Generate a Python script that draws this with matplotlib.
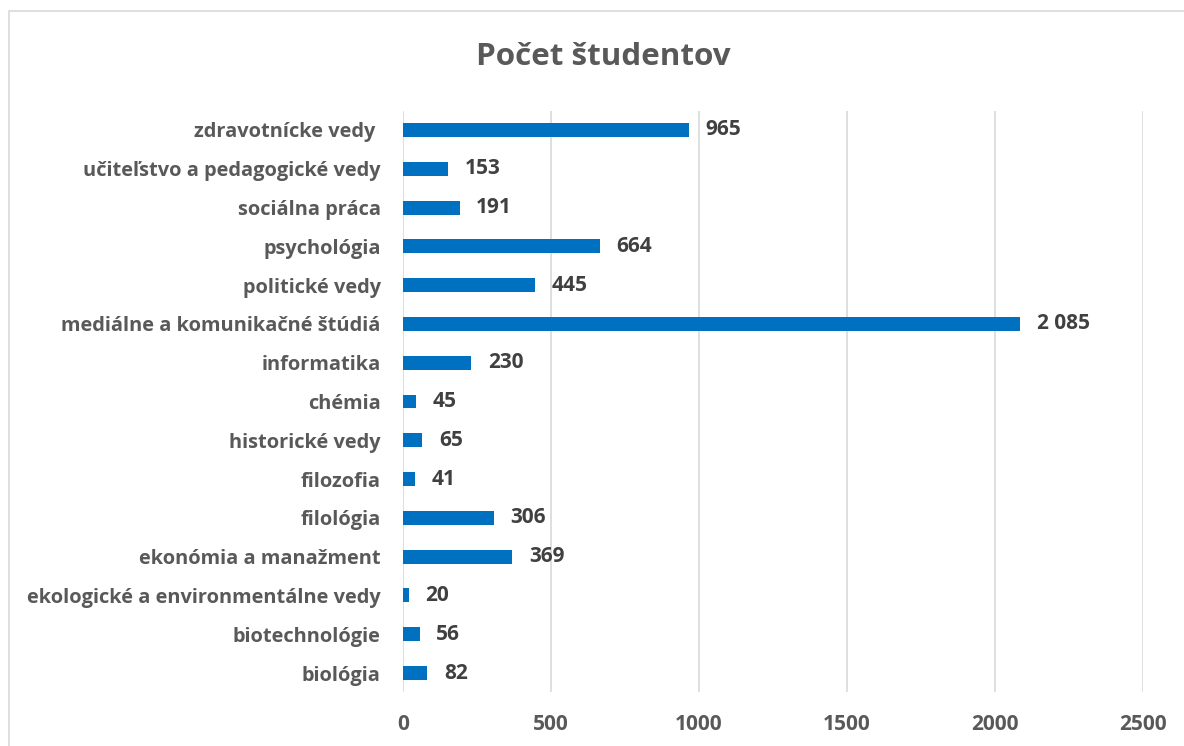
import matplotlib.pyplot as plt
from matplotlib.patches import Rectangle

plt.rcParams['font.family'] = ['Open Sans', 'DejaVu Sans']

categories = ['biológia', 'biotechnológie', 'ekologické a environmentálne vedy',
              'ekonómia a manažment', 'filológia', 'filozofia', 'historické vedy',
              'chémia', 'informatika', 'mediálne a komunikačné štúdiá',
              'politické vedy', 'psychológia', 'sociálna práca',
              'učiteľstvo a pedagogické vedy', 'zdravotnícke vedy ']
students = [82, 56, 20, 369, 306, 41, 65, 45, 230, 2085, 445, 664, 191, 153, 965]
xticks = [0, 500, 1000, 1500, 2000, 2500]

bar_color = '#0070C0'
label_color = '#595959'
value_color = '#404040'

fig = plt.figure(figsize=(11.84, 7.46), dpi=100)
fig.patches.append(Rectangle((9 / 1184, -0.1), 1.2, 1 - 11 / 746 + 0.1,
                             transform=fig.transFigure, fill=False,
                             edgecolor='#D9D9D9', linewidth=1.2))

ax = fig.add_axes([403 / 1184, 1 - 692.4 / 746, 740 / 1184, (692.4 - 110.6) / 746])
y = range(len(categories))
ax.barh(y, students, height=0.36, color=bar_color, zorder=3)

for i, v in enumerate(students):
    txt = '{:,}'.format(v).replace(',', ' ')
    ax.annotate(txt, (v, i), xytext=(12, 0), textcoords='offset points',
                va='center', ha='left', fontsize=15, fontweight='bold',
                color=value_color)

ax.set_xlim(0, 2500)
ax.set_ylim(-0.5, len(categories) - 0.5)
ax.set_xticks(xticks)
ax.set_xticklabels([str(t) for t in xticks], fontsize=15, fontweight='bold',
                   color=label_color)
ax.set_yticks(list(y))
ax.set_yticklabels(categories, fontsize=14.4, fontweight='bold', color=label_color)
ax.tick_params(axis='both', length=0)
ax.tick_params(axis='x', pad=15.5)
ax.tick_params(axis='y', pad=16)
ax.grid(axis='x', color='#D9D9D9', linewidth=1.2, zorder=0)
for s in ax.spines.values():
    s.set_visible(False)

fig.text(603 / 1184, 1 - 57 / 746, 'Počet študentov', ha='center', va='center',
         fontsize=22.6, fontweight='bold', color=label_color)

fig.savefig('out.png', dpi=100)
